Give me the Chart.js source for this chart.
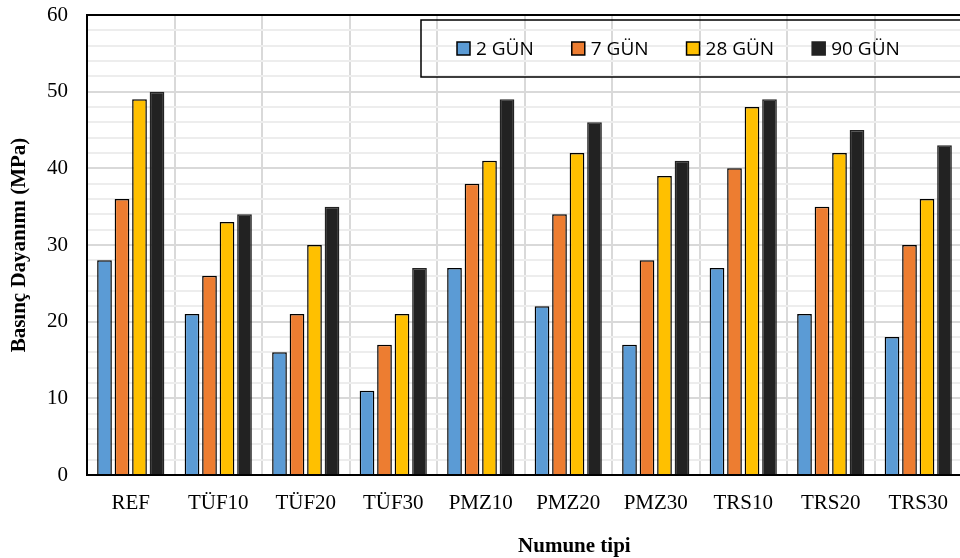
<!DOCTYPE html>
<html>
<head>
<meta charset="utf-8">
<script src="https://cdn.jsdelivr.net/npm/chart.js@4.4.0/dist/chart.umd.min.js"></script>
<style>
    html, body { margin: 0; padding: 0; background: #fff; overflow: hidden; }
</style>
</head>
<body>
<canvas id="grafik" width="964" height="558"></canvas>
<script>
var kategoriler = ['REF', 'TÜF10', 'TÜF20', 'TÜF30', 'PMZ10', 'PMZ20', 'PMZ30', 'TRS10', 'TRS20', 'TRS30'];
var seriAdlari = ['2 GÜN', '7 GÜN', '28 GÜN', '90 GÜN'];
var gun2 = [28, 21, 16, 11, 27, 22, 17, 27, 21, 18];
var gun7 = [36, 26, 21, 17, 38, 34, 28, 40, 35, 30];
var gun28 = [49, 33, 30, 21, 41, 42, 39, 48, 42, 36];
var gun90 = [50, 34, 35, 27, 49, 46, 41, 49, 45, 43];
var yMin = 0, yMax = 60, yAdim = 2, yEtiketAdim = 10;

var renkler = ['#5B9BD5', '#ED7D31', '#FFC000', '#222222'];

// frame around the plot area (right side falls outside the picture)
var cerceve = {
    id: 'cerceve',
    afterDatasetsDraw: function (chart) {
        var ctx = chart.ctx, a = chart.chartArea;
        ctx.save();
        ctx.strokeStyle = '#000';
        ctx.lineWidth = 2;
        ctx.strokeRect(a.left, a.top, a.right - a.left, a.bottom - a.top);
        ctx.restore();
    }
};

// Excel style legend box inside the plot
var lejant = {
    id: 'lejant',
    afterDraw: function (chart) {
        var ctx = chart.ctx, a = chart.chartArea;
        var x0 = a.left + 334, y0 = a.top + 5, h = 57;
        ctx.save();
        ctx.strokeStyle = '#000';
        ctx.lineWidth = 1.5;
        ctx.strokeRect(x0, y0, a.right - x0 + 10, h);
        ctx.font = '19px "Open Sans"';
        ctx.textBaseline = 'middle';
        var x = x0 + 36, y = y0 + h / 2;
        chart.data.datasets.forEach(function (ds) {
            ctx.fillStyle = ds.backgroundColor;
            ctx.fillRect(x, y - 6.5, 13, 13);
            ctx.strokeStyle = ds.borderColor;
            ctx.lineWidth = 1.5;
            ctx.strokeRect(x, y - 6.5, 13, 13);
            ctx.fillStyle = '#000';
            ctx.fillText(ds.label, x + 19, y + 1);
            x += 19 + ctx.measureText(ds.label).width + 38;
        });
        // x axis title
        ctx.font = 'bold 21px "Liberation Serif"';
        ctx.textAlign = 'center';
        ctx.fillText('Numune tipi', a.left + (a.right - a.left) * 0.557, 547);
        ctx.restore();
    }
};

var veriler = [gun2, gun7, gun28, gun90];
var datasets = seriAdlari.map(function (ad, i) {
    return {
        label: ad,
        data: veriler[i],
        backgroundColor: renkler[i],
        borderColor: i == 3 ? '#222222' : '#000000',
        borderWidth: 1.5,
        categoryPercentage: 0.8,
        barPercentage: 0.84
    };
});

new Chart(document.getElementById('grafik'), {
    type: 'bar',
    data: { labels: kategoriler, datasets: datasets },
    plugins: [cerceve, lejant],
    options: {
        responsive: false,
        animation: false,
        layout: { padding: { top: 15, right: 2, left: 0, bottom: 0 } },
        plugins: {
            legend: { display: false },
            tooltip: { enabled: false }
        },
        scales: {
            x: {
                afterFit: function (s) {
                    s.height = 83;
                    s.paddingLeft = 0;
                    s.paddingRight = 0;
                },
                grid: { offset: true, color: '#D9D9D9', lineWidth: 2, drawTicks: false },
                border: { display: false },
                ticks: {
                    color: '#000',
                    padding: 16,
                    font: { family: 'Liberation Serif', size: 21 },
                    maxRotation: 0
                }
            },
            y: {
                min: yMin,
                max: yMax,
                afterFit: function (s) {
                    s.width = 87;
                    s.paddingTop = 0;
                    s.paddingBottom = 0;
                },
                grid: {
                    drawTicks: false,
                    color: function (c) { return c.tick && c.tick.value % yEtiketAdim === 0 ? '#D9D9D9' : '#EDEDED'; },
                    lineWidth: 2
                },
                border: { display: false },
                ticks: {
                    stepSize: yAdim,
                    autoSkip: false,
                    color: '#000',
                    padding: 19,
                    font: { family: 'Liberation Serif', size: 21 },
                    callback: function (v) { return v % yEtiketAdim === 0 ? v : ''; }
                },
                title: {
                    display: true,
                    text: 'Basınç Dayanımı (MPa)',
                    color: '#000',
                    font: { family: 'Liberation Serif', size: 21, weight: 'bold' },
                    padding: { top: 7, bottom: 0 }
                }
            }
        }
    }
});
</script>
</body>
</html>
